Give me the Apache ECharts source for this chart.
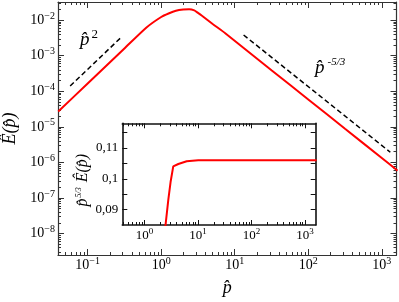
<!DOCTYPE html>
<html><head><meta charset="utf-8">
<script src="https://cdn.jsdelivr.net/npm/echarts@6/dist/echarts.min.js"></script>
<style>html,body{margin:0;padding:0;background:#fff}#c{width:399px;height:302px}</style>
</head><body><div id="c"></div>
<script>
// ---- data ----
const mainP = [0.0398, 0.1, 0.316, 0.631, 1.0, 1.259, 1.585, 1.995, 2.399, 2.818, 3.162, 3.548, 5.012, 7.43, 31.6, 100, 316, 1000, 1641];
const mainE = [2.70e-5, 1.66e-4, 1.60e-3, 6.24e-3, 1.23e-2, 1.545e-2, 1.85e-2, 2.00e-2, 2.03e-2, 1.88e-2, 1.60e-2, 1.35e-2, 7.82e-3, 4.29e-3, 3.93e-4, 5.90e-5, 8.85e-6, 1.33e-6, 5.87e-7];
const slope2P = [0.0578, 0.292];
const slope2E = [1.41e-4, 3.44e-3];
const slope53P = [13.2, 1306];
const slope53E = [3.84e-3, 1.93e-6];
const insetP = [2.30, 2.79, 3.09, 3.45, 4.29, 6.15, 10.1, 1650];
const insetC = [0.080, 0.0932, 0.0992, 0.1040, 0.1048, 0.1057, 0.1060, 0.1060];

const mainXTickExps = [-1, 0, 1, 2, 3];
const mainYTickExps = [-8, -7, -6, -5, -4, -3, -2];
const insetXTickExps = [0, 1, 2, 3];
const insetYTickValues = [0.09, 0.1, 0.11];
const insetYTickLabels = ['0,09', '0,1', '0,11'];
const insetYAllTicks = [0.09, 0.095, 0.1, 0.105, 0.11, 0.115];

const mainXRange = [0.0395, 1585];
const mainYRange = [2.48e-9, 0.0325];
const insetXRange = [0.385, 1585];
const insetYRange = [0.085, 0.118];

// ---- helpers ----
const L = Math.log10;
const FONT = "'Liberation Serif', 'Times New Roman', 'DejaVu Serif', serif";
function minorLogs(lo, hi) {
  const out = [];
  for (let n = Math.floor(lo) - 1; n <= Math.ceil(hi); n++) {
    for (let k = 2; k <= 9; k++) {
      const v = n + L(k);
      if (v > lo && v < hi) out.push(v);
    }
  }
  return out;
}
function sup(v) { return v < 0 ? '\u2212' + (-v) : String(v); }
function powLabel(v) { return '{b|10}{s|' + sup(Math.round(v)) + '}'; }
function richPow(size, ssize) {
  return {
    b: { fontSize: size, fontFamily: FONT, lineHeight: size, color: '#000' },
    s: { fontSize: ssize, fontFamily: FONT, lineHeight: ssize, color: '#000', padding: [0, 0, Math.round(size * 0.58), 0] }
  };
}
function tickAxis(opt) {
  const a = {
    type: 'value', gridIndex: opt.grid, position: opt.pos, min: opt.lo, max: opt.hi,
    axisLine: { show: !!opt.line, onZero: false, lineStyle: { color: opt.color, width: opt.width } },
    axisTick: { show: true, inside: true, length: opt.len, customValues: opt.ticks, lineStyle: { color: opt.color, width: opt.tw || 1 } },
    axisLabel: { show: false },
    splitLine: { show: false }
  };
  if (opt.labels) {
    a.axisLabel = Object.assign({ show: true, customValues: opt.labels, margin: opt.margin }, opt.labelExtra);
  }
  if (opt.name) Object.assign(a, opt.name);
  return a;
}

const mx = [L(mainXRange[0]), L(mainXRange[1])];
const my = [L(mainYRange[0]), L(mainYRange[1])];
const ix = [L(insetXRange[0]), L(insetXRange[1])];
const MC = '#333', MW = 1.2, IC = '#111', IW = 1.6;

const xAxes = [
  { type: 'log', gridIndex: 0, min: mainXRange[0], max: mainXRange[1], show: false },
  tickAxis({ grid: 0, pos: 'bottom', lo: mx[0], hi: mx[1], ticks: mainXTickExps, len: 6, color: MC, width: MW, line: true,
    labels: mainXTickExps, margin: 3,
    labelExtra: { formatter: powLabel, rich: richPow(14, 10) },
    name: { name: 'p\u0302', nameLocation: 'middle', nameGap: 17,
      nameTextStyle: { fontFamily: FONT, fontStyle: 'italic', fontSize: 18, color: '#000' } } }),
  tickAxis({ grid: 0, pos: 'bottom', lo: mx[0], hi: mx[1], ticks: minorLogs(mx[0], mx[1]), len: 3, color: MC }),
  tickAxis({ grid: 0, pos: 'top', lo: mx[0], hi: mx[1], ticks: mainXTickExps, len: 6, color: MC, width: MW, line: true }),
  tickAxis({ grid: 0, pos: 'top', lo: mx[0], hi: mx[1], ticks: minorLogs(mx[0], mx[1]), len: 3, color: MC }),
  { type: 'log', gridIndex: 1, min: insetXRange[0], max: insetXRange[1], show: false },
  tickAxis({ grid: 1, pos: 'bottom', lo: ix[0], hi: ix[1], ticks: insetXTickExps, len: 5, color: IC, width: IW, line: true,
    labels: insetXTickExps, margin: 4,
    labelExtra: { formatter: powLabel, rich: richPow(13, 9) } }),
  tickAxis({ grid: 1, pos: 'bottom', lo: ix[0], hi: ix[1], ticks: minorLogs(ix[0], ix[1]), len: 3, color: IC }),
  tickAxis({ grid: 1, pos: 'top', lo: ix[0], hi: ix[1], ticks: insetXTickExps, len: 5, color: IC, width: IW, line: true }),
  tickAxis({ grid: 1, pos: 'top', lo: ix[0], hi: ix[1], ticks: minorLogs(ix[0], ix[1]), len: 3, color: IC })
];

const yAxes = [
  { type: 'log', gridIndex: 0, min: mainYRange[0], max: mainYRange[1], show: false },
  tickAxis({ grid: 0, pos: 'left', lo: my[0], hi: my[1], ticks: mainYTickExps, len: 6, color: MC, width: MW, line: true,
    labels: mainYTickExps, margin: 3,
    labelExtra: { formatter: powLabel, rich: richPow(14, 10) },
    name: { name: '\u00CA(p\u0302)', nameLocation: 'middle', nameGap: 36, nameRotate: 90,
      nameTextStyle: { fontFamily: FONT, fontStyle: 'italic', fontSize: 18, color: '#000' } } }),
  tickAxis({ grid: 0, pos: 'left', lo: my[0], hi: my[1], ticks: minorLogs(my[0], my[1]), len: 3, color: MC }),
  tickAxis({ grid: 0, pos: 'right', lo: my[0], hi: my[1], ticks: mainYTickExps, len: 6, color: MC, width: MW, line: true }),
  tickAxis({ grid: 0, pos: 'right', lo: my[0], hi: my[1], ticks: minorLogs(my[0], my[1]), len: 3, color: MC }),
  tickAxis({ grid: 1, pos: 'left', lo: insetYRange[0], hi: insetYRange[1], ticks: insetYAllTicks, len: 5, color: IC, width: IW, line: true,
    labels: insetYTickValues, margin: 4,
    labelExtra: {
      formatter: function (v) {
        for (let i = 0; i < insetYTickValues.length; i++) if (Math.abs(v - insetYTickValues[i]) < 1e-6) return insetYTickLabels[i];
        return '';
      },
      fontFamily: FONT, fontSize: 13, color: '#000'
    },
    name: { name: '{p|p\u0302}{s|5/3}{p| \u00CA(p\u0302)}', nameLocation: 'middle', nameGap: 26, nameRotate: 90,
      nameTextStyle: { padding: [0, 12, 0, 0], rich: {
        p: { fontFamily: FONT, fontStyle: 'italic', fontSize: 16, lineHeight: 16, color: '#000' },
        s: { fontFamily: FONT, fontStyle: 'italic', fontSize: 8, lineHeight: 8, color: '#000', padding: [0, 1, 9, 1] } } } } }),
  tickAxis({ grid: 1, pos: 'right', lo: insetYRange[0], hi: insetYRange[1], ticks: insetYAllTicks, len: 5, color: IC, width: IW, line: true })
];

function pairs(xs, ys) { return xs.map((x, i) => [x, ys[i]]); }

const option = {
  animation: false,
  backgroundColor: '#fff',
  textStyle: { fontFamily: FONT },
  grid: [
    { left: 58, top: 2, width: 338.5, height: 253, containLabel: false, outerBoundsMode: 'none' },
    { left: 122.3, top: 123.3, width: 193.4, height: 101.7, containLabel: false, outerBoundsMode: 'none',
      show: true, backgroundColor: '#fff', borderWidth: 0 }
  ],
  xAxis: xAxes,
  yAxis: yAxes,
  series: [
    { type: 'line', xAxisIndex: 0, yAxisIndex: 0, data: pairs(mainP, mainE), showSymbol: false, smooth: 0.2,
      lineStyle: { color: '#ff0000', width: 2 }, z: 5 },
    { type: 'line', xAxisIndex: 0, yAxisIndex: 0, data: pairs(slope2P, slope2E), showSymbol: false,
      lineStyle: { color: '#000', width: 1.5, type: [5, 3] } },
    { type: 'line', xAxisIndex: 0, yAxisIndex: 0, data: pairs(slope53P, slope53E), showSymbol: false,
      lineStyle: { color: '#000', width: 1.5, type: [5, 3] } },
    { type: 'line', xAxisIndex: 5, yAxisIndex: 5, data: pairs(insetP, insetC), showSymbol: false, clip: true,
      lineStyle: { color: '#ff0000', width: 2 }, z: 5 }
  ],
  graphic: [
    { type: 'text', x: 80, y: 30, z: 10, style: {
      text: '{p|p\u0302}{s|2}',
      rich: {
        p: { fontFamily: FONT, fontStyle: 'italic', fontSize: 19, lineHeight: 20, fill: '#000' },
        s: { fontFamily: FONT, fontSize: 13, lineHeight: 12, fill: '#000', padding: [0, 0, 10, 2] }
      } } },
    { type: 'text', x: 315, y: 58, z: 10, style: {
      text: '{p|p\u0302}{s|-5/3}',
      rich: {
        p: { fontFamily: FONT, fontStyle: 'italic', fontSize: 19, lineHeight: 20, fill: '#000' },
        s: { fontFamily: FONT, fontStyle: 'italic', fontSize: 11, lineHeight: 11, fill: '#000', padding: [0, 0, 12, 3] }
      } } }
  ]
};

const chart = echarts.init(document.getElementById('c'), null, { renderer: 'canvas' });
chart.setOption(option);
</script>
</body></html>
